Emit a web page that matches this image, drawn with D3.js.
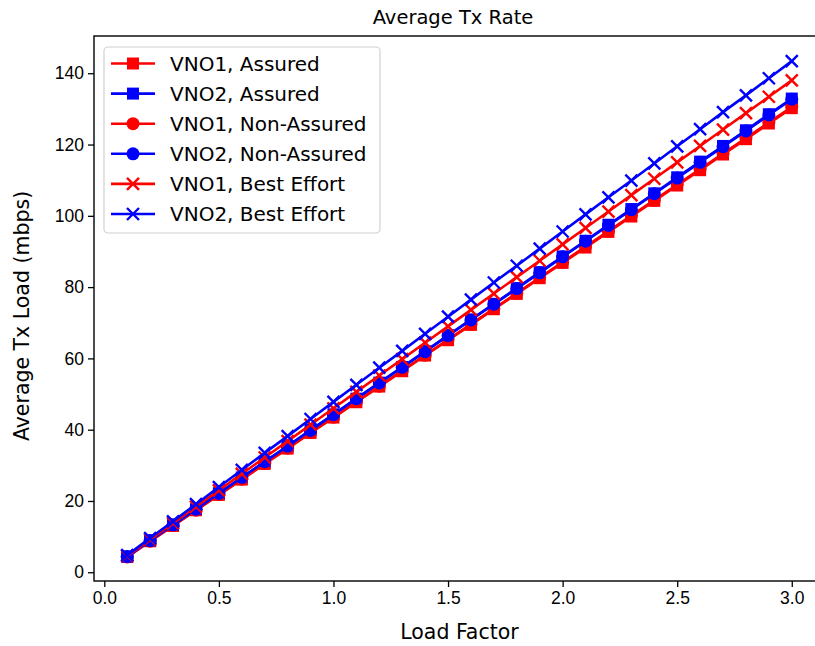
<!DOCTYPE html>
<meta charset="utf-8">

<!-- Load d3.js -->
<script src="https://d3js.org/d3.v7.min.js"></script>

<style>
body { margin: 0; background: white; }
svg { font-family: "DejaVu Sans", sans-serif; display: block; }
</style>

<div id="my_dataviz"></div>

<script>

// load factor values on the x axis
var loadFactor = [0.1, 0.2, 0.3, 0.4, 0.5, 0.6, 0.7, 0.8, 0.9, 1.0,
                  1.1, 1.2, 1.3, 1.4, 1.5, 1.6, 1.7, 1.8, 1.9, 2.0,
                  2.1, 2.2, 2.3, 2.4, 2.5, 2.6, 2.7, 2.8, 2.9, 3.0];

// average tx load (mbps)
var vno1Assured = [4.3, 8.7, 13.0, 17.4, 21.7, 26.0, 30.4, 34.7, 39.1, 43.4,
                   47.7, 52.1, 56.4, 60.8, 65.1, 69.4, 73.8, 78.1, 82.5, 86.8,
                   91.1, 95.5, 99.8, 104.2, 108.5, 112.8, 117.2, 121.5, 125.9, 130.2];
var vno2Assured = [4.4, 8.9, 13.3, 17.7, 22.2, 26.6, 31.0, 35.4, 39.9, 44.3,
                   48.7, 53.2, 57.6, 62.0, 66.5, 70.9, 75.3, 79.7, 84.2, 88.6,
                   93.0, 97.5, 101.9, 106.3, 110.8, 115.2, 119.6, 124.0, 128.5, 132.9];
var vno1NonAssured = [4.3, 8.7, 13.1, 17.4, 21.8, 26.1, 30.5, 34.8, 39.2, 43.5,
                      47.9, 52.2, 56.6, 60.9, 65.3, 69.6, 74.0, 78.3, 82.7, 87.0,
                      91.4, 95.7, 100.1, 104.4, 108.8, 113.1, 117.5, 121.8, 126.2, 130.5];
var vno2NonAssured = [4.4, 8.9, 13.3, 17.7, 22.1, 26.6, 31.0, 35.4, 39.8, 44.2,
                      48.7, 53.1, 57.5, 61.9, 66.4, 70.8, 75.2, 79.6, 84.0, 88.5,
                      92.9, 97.3, 101.7, 106.2, 110.6, 115.0, 119.4, 123.8, 128.3, 132.7];
var vno1BestEffort = [4.6, 9.2, 13.8, 18.4, 23.0, 27.6, 32.2, 36.8, 41.4, 46.0,
                      50.6, 55.2, 59.8, 64.4, 69.0, 73.6, 78.2, 82.8, 87.4, 92.0,
                      96.6, 101.2, 105.8, 110.4, 115.0, 119.6, 124.2, 128.8, 133.4, 138.0];
var vno2BestEffort = [4.8, 9.6, 14.3, 19.1, 23.9, 28.7, 33.5, 38.2, 43.0, 47.8,
                      52.6, 57.4, 62.1, 66.9, 71.7, 76.5, 81.3, 86.0, 90.8, 95.6,
                      100.4, 105.2, 109.9, 114.7, 119.5, 124.3, 129.1, 133.8, 138.6, 143.4];

var seriesNames = ["VNO1, Assured", "VNO2, Assured", "VNO1, Non-Assured",
                   "VNO2, Non-Assured", "VNO1, Best Effort", "VNO2, Best Effort"];
var seriesValues = [vno1Assured, vno2Assured, vno1NonAssured,
                    vno2NonAssured, vno1BestEffort, vno2BestEffort];
var seriesColors = ["#ff0000", "#0000ff", "#ff0000", "#0000ff", "#ff0000", "#0000ff"];
var seriesMarkers = ["square", "square", "circle", "circle", "x", "x"];

var xTicks = [0.0, 0.5, 1.0, 1.5, 2.0, 2.5, 3.0];
var yTicks = [0, 20, 40, 60, 80, 100, 120, 140];

// set the dimensions and margins of the graph
var margin = {top: 36, left: 94},
    width = 731,
    height = 545,
    svgWidth = 815,
    svgHeight = 646;

var svgRoot = d3.select("#my_dataviz")
  .append("svg")
    .attr("width", svgWidth)
    .attr("height", svgHeight);

var svg = svgRoot.append("g")
    .attr("transform", "translate(" + margin.left + "," + margin.top + ")");

// scales (matplotlib style 5% padding)
var x = d3.scaleLinear()
  .domain([-0.045, 3.145])
  .range([0, width]);
var y = d3.scaleLinear()
  .domain([-2.45, 150.45])
  .range([height, 0]);

// X axis
var xAxis = svg.append("g")
  .attr("transform", "translate(0," + height + ")")
  .call(d3.axisBottom(x).tickValues(xTicks).tickFormat(d3.format(".1f")).tickSize(6).tickPadding(5));
xAxis.selectAll("text").style("font-size", "17.5px").attr("fill", "#000");

// Y axis
var yAxis = svg.append("g")
  .call(d3.axisLeft(y).tickValues(yTicks).tickSize(6).tickPadding(4));
yAxis.selectAll("text").style("font-size", "17.5px").attr("fill", "#000");

svg.selectAll(".domain").remove();
svg.selectAll(".tick line").attr("stroke", "#000").attr("stroke-width", 1.3);

// spines
svg.append("rect")
  .attr("x", 0).attr("y", 0)
  .attr("width", width).attr("height", height)
  .attr("fill", "none")
  .attr("stroke", "#000")
  .attr("stroke-width", 1.4);

// marker drawing helper
function drawMarker(g, shape, color, cx, cy) {
  if (shape === "square") {
    g.append("rect")
      .attr("x", cx - 6).attr("y", cy - 6)
      .attr("width", 12).attr("height", 12)
      .attr("fill", color);
  } else if (shape === "circle") {
    g.append("circle")
      .attr("cx", cx).attr("cy", cy).attr("r", 6.5)
      .attr("fill", color);
  } else {
    g.append("path")
      .attr("d", "M" + (cx - 6) + "," + (cy - 6) + "L" + (cx + 6) + "," + (cy + 6) +
                 "M" + (cx - 6) + "," + (cy + 6) + "L" + (cx + 6) + "," + (cy - 6))
      .attr("stroke", color)
      .attr("stroke-width", 2.4)
      .attr("fill", "none");
  }
}

var line = d3.line()
  .x(function(d, i) { return x(loadFactor[i]); })
  .y(function(d) { return y(d); });

// lines + markers, in plotting order
seriesValues.forEach(function(vals, s) {
  var g = svg.append("g");
  g.append("path")
    .datum(vals)
    .attr("d", line)
    .attr("fill", "none")
    .attr("stroke", seriesColors[s])
    .attr("stroke-width", 2.6);
  vals.forEach(function(v, i) {
    drawMarker(g, seriesMarkers[s], seriesColors[s], x(loadFactor[i]), y(v));
  });
});

// title
svgRoot.append("text")
  .attr("x", 453)
  .attr("y", 24)
  .attr("text-anchor", "middle")
  .style("font-size", "19.5px")
  .text("Average Tx Rate");

// x label
svgRoot.append("text")
  .attr("x", margin.left + width / 2)
  .attr("y", 639)
  .attr("text-anchor", "middle")
  .style("font-size", "20.5px")
  .text("Load Factor");

// y label
svgRoot.append("text")
  .attr("transform", "rotate(-90)")
  .attr("x", -(margin.top + 280))
  .attr("y", 29)
  .attr("text-anchor", "middle")
  .style("font-size", "20.5px")
  .text("Average Tx Load (mbps)");

// legend
var legend = svgRoot.append("g");
legend.append("rect")
  .attr("x", 104).attr("y", 47)
  .attr("width", 276).attr("height", 186)
  .attr("rx", 4)
  .attr("fill", "white")
  .attr("fill-opacity", 0.8)
  .attr("stroke", "#d0d0d0")
  .attr("stroke-width", 1.2);

seriesNames.forEach(function(name, i) {
  var ly = 63.5 + i * 30.1;
  legend.append("line")
    .attr("x1", 111).attr("x2", 155)
    .attr("y1", ly).attr("y2", ly)
    .attr("stroke", seriesColors[i])
    .attr("stroke-width", 2.6);
  drawMarker(legend, seriesMarkers[i], seriesColors[i], 133, ly);
  legend.append("text")
    .attr("x", 170)
    .attr("y", ly)
    .attr("dy", "0.35em")
    .style("font-size", "20px")
    .text(name);
});

</script>
